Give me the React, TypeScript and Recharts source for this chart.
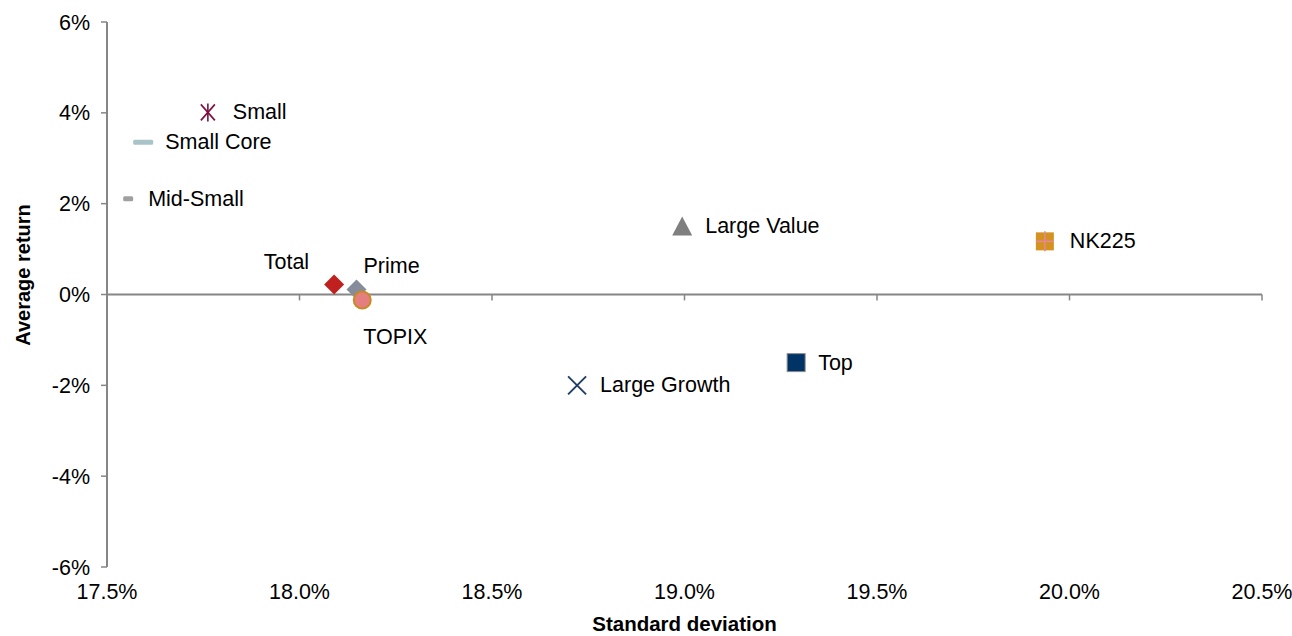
import {
  ScatterChart,
  Scatter,
  XAxis,
  YAxis,
  ReferenceLine,
  LabelList,
} from "recharts";

// Data (percent)
const names = [
  "Small",
  "Small Core",
  "Mid-Small",
  "Total",
  "Prime",
  "TOPIX",
  "Large Value",
  "Large Growth",
  "Top",
  "NK225",
];
const stdDev = [17.762, 17.594, 17.555, 18.09, 18.148, 18.163, 18.994, 18.721, 19.29, 19.936];
const avgReturn = [4.01, 3.35, 2.11, 0.22, 0.11, -0.12, 1.5, -2.0, -1.5, 1.17];

const xTicks = [17.5, 18.0, 18.5, 19.0, 19.5, 20.0, 20.5];
const yTicks = [-6, -4, -2, 0, 2, 4, 6];

const FONT = "'Liberation Sans', Arial, sans-serif";
const AXIS = "#868686";
const FS = 21.5;

// label placement per point (px from marker)
const labelPos: Record<string, { dx: number; dy: number; anchor: string }> = {
  Small: { dx: 25, dy: 0, anchor: "start" },
  "Small Core": { dx: 22, dy: 0, anchor: "start" },
  "Mid-Small": { dx: 20, dy: 0, anchor: "start" },
  Total: { dx: -25, dy: -23, anchor: "end" },
  Prime: { dx: 7, dy: -24, anchor: "start" },
  TOPIX: { dx: 1, dy: 37, anchor: "start" },
  "Large Value": { dx: 23, dy: 0, anchor: "start" },
  "Large Growth": { dx: 23, dy: 0, anchor: "start" },
  Top: { dx: 22, dy: 0, anchor: "start" },
  NK225: { dx: 25, dy: 0, anchor: "start" },
};

const shapes: Record<string, (p: any) => any> = {
  Small: ({ cx, cy }) => (
    <g stroke="#7A1142" strokeWidth={1.6}>
      <line x1={cx - 7} y1={cy - 8} x2={cx + 7} y2={cy + 8} />
      <line x1={cx + 7} y1={cy - 8} x2={cx - 7} y2={cy + 8} />
      <line x1={cx} y1={cy - 9} x2={cx} y2={cy + 9} />
    </g>
  ),
  "Small Core": ({ cx, cy }) => (
    <rect x={cx - 10} y={cy - 2.5} width={20} height={5} rx={1.5} fill="#A9C4C8" />
  ),
  "Mid-Small": ({ cx, cy }) => (
    <rect x={cx - 5} y={cy - 2.5} width={10} height={5} rx={1.5} fill="#A0A0A0" />
  ),
  Total: ({ cx, cy }) => (
    <polygon
      points={`${cx},${cy - 10} ${cx + 10},${cy} ${cx},${cy + 10} ${cx - 10},${cy}`}
      fill="#C0201E"
    />
  ),
  Prime: ({ cx, cy }) => (
    <polygon
      points={`${cx},${cy - 10} ${cx + 10},${cy} ${cx},${cy + 10} ${cx - 10},${cy}`}
      fill="#878C9B"
    />
  ),
  TOPIX: ({ cx, cy }) => (
    <circle cx={cx} cy={cy} r={8.5} fill="#E57F7F" stroke="#C98A22" strokeWidth={2} />
  ),
  "Large Value": ({ cx, cy }) => (
    <polygon
      points={`${cx},${cy - 10} ${cx + 10},${cy + 9} ${cx - 10},${cy + 9}`}
      fill="#7F7F7F"
    />
  ),
  "Large Growth": ({ cx, cy }) => (
    <g stroke="#1F3B66" strokeWidth={1.8}>
      <line x1={cx - 9} y1={cy - 9} x2={cx + 9} y2={cy + 9} />
      <line x1={cx + 9} y1={cy - 9} x2={cx - 9} y2={cy + 9} />
    </g>
  ),
  Top: ({ cx, cy }) => (
    <rect x={cx - 9} y={cy - 9} width={18} height={18} fill="#003366" stroke="#8C8C8C" strokeWidth={1} />
  ),
  NK225: ({ cx, cy }) => (
    <g>
      <rect x={cx - 9} y={cy - 9} width={18} height={18} fill="#D4921E" />
      <g stroke="#E3899A" strokeWidth={1.6}>
        <line x1={cx - 9} y1={cy} x2={cx + 9} y2={cy} />
        <line x1={cx} y1={cy - 10} x2={cx} y2={cy + 10} />
      </g>
    </g>
  ),
};

const PointLabel = (props: any) => {
  const { x, y, width, height, value } = props;
  const pos = labelPos[value];
  const cx = x + (width || 0) / 2;
  const cy = y + (height || 0) / 2;
  return (
    <text
      x={cx + pos.dx}
      y={cy + pos.dy}
      textAnchor={pos.anchor as any}
      dominantBaseline="central"
      fontSize={FS}
      fontFamily={FONT}
      fill="#000"
    >
      {value}
    </text>
  );
};

const XTitle = () => (
  <text
    x={684.5}
    y={631}
    textAnchor="middle"
    fontSize={20.5}
    fontWeight="bold"
    fontFamily={FONT}
    fill="#000"
  >
    Standard deviation
  </text>
);

const YTitle = () => (
  <text
    transform="translate(23, 275) rotate(-90)"
    textAnchor="middle"
    dominantBaseline="central"
    fontSize={20}
    fontWeight="bold"
    fontFamily={FONT}
    fill="#000"
  >
    Average return
  </text>
);

export default function App() {
  return (
    <div style={{ position: "absolute", left: 0, top: 0, background: "#fff" }}>
      <ScatterChart
        width={1292}
        height={636}
        margin={{ top: 22, right: 30, bottom: 0, left: 0 }}
      >
        <XAxis
          type="number"
          dataKey="x"
          domain={[17.5, 20.5]}
          ticks={xTicks}
          axisLine={false}
          tickLine={false}
          tickMargin={11}
          height={69}
          interval={0}
          tick={{ fontSize: FS, fill: "#000", fontFamily: FONT }}
          tickFormatter={(v: number) => `${v.toFixed(1)}%`}
          label={<XTitle />}
        />
        <YAxis
          type="number"
          dataKey="y"
          domain={[-6, 6]}
          ticks={yTicks}
          width={107}
          axisLine={{ stroke: AXIS, strokeWidth: 2 }}
          tickLine={{ stroke: AXIS, strokeWidth: 1.5 }}
          tickSize={6}
          tickMargin={11}
          tick={{ fontSize: FS, fill: "#000", fontFamily: FONT }}
          tickFormatter={(v: number) => `${v}%`}
          label={<YTitle />}
        />
        <ReferenceLine y={0} stroke={AXIS} strokeWidth={2} />
        {xTicks.slice(1).map((t) => (
          <ReferenceLine
            key={t}
            segment={[
              { x: t, y: 0 },
              { x: t, y: -0.13 },
            ]}
            stroke={AXIS}
            strokeWidth={1.5}
          />
        ))}
        {names.map((n, i) => (
          <Scatter
            key={n}
            name={n}
            data={[{ x: stdDev[i], y: avgReturn[i], name: n }]}
            shape={shapes[n]}
            isAnimationActive={false}
          >
            <LabelList dataKey="name" content={<PointLabel />} />
          </Scatter>
        ))}
      </ScatterChart>
    </div>
  );
}
